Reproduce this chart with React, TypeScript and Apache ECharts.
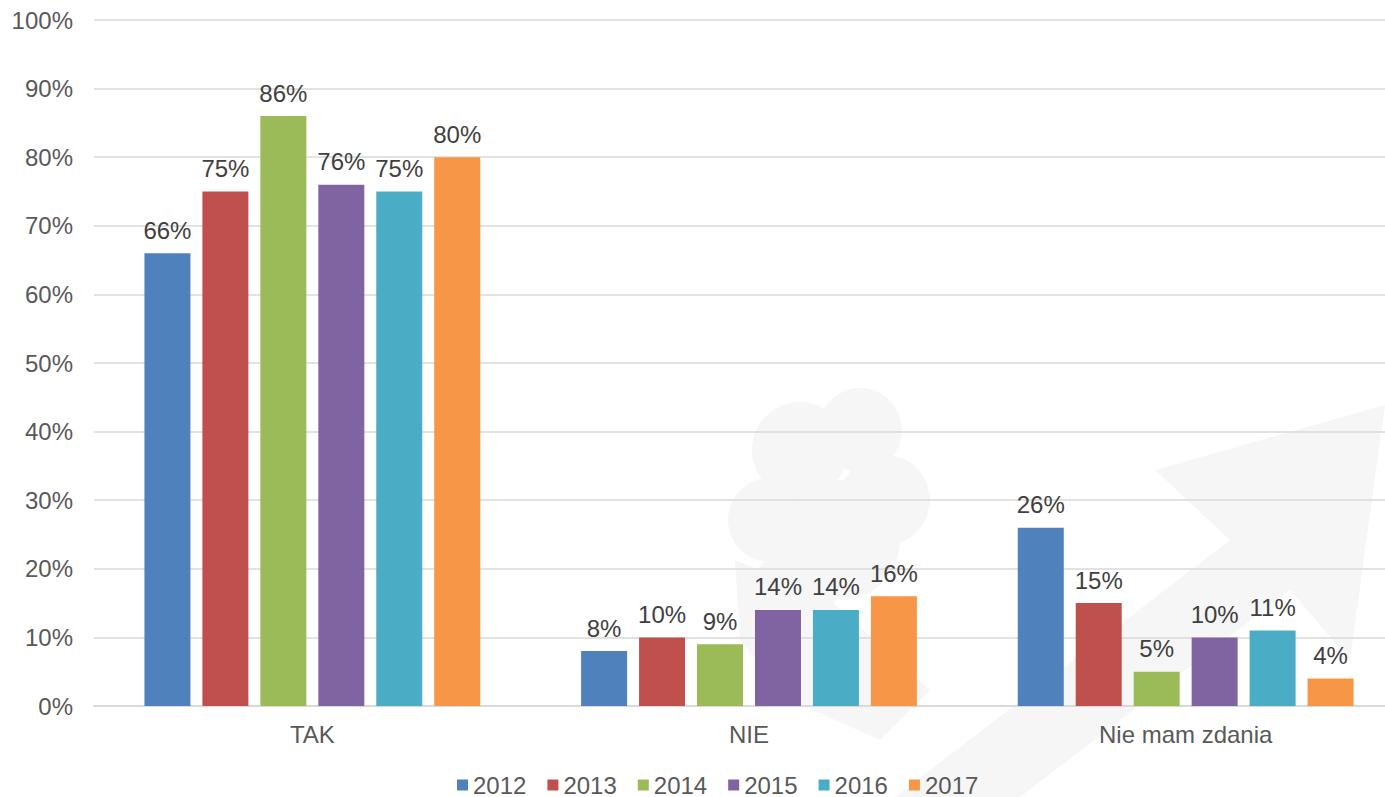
import React, { useEffect, useRef } from "react";
import * as echarts from "echarts";

const categories = ["TAK", "NIE", "Nie mam zdania"];
const years = ["2012", "2013", "2014", "2015", "2016", "2017"];
const colors = ["#4F81BD", "#C0504D", "#9BBB59", "#8064A2", "#4BACC6", "#F79646"];
const v2012 = [66, 8, 26];
const v2013 = [75, 10, 15];
const v2014 = [86, 9, 5];
const v2015 = [76, 14, 10];
const v2016 = [75, 14, 11];
const v2017 = [80, 16, 4];
const seriesValues = [v2012, v2013, v2014, v2015, v2016, v2017];
const yTicks = [0, 10, 20, 30, 40, 50, 60, 70, 80, 90, 100];

export default function App() {
  const ref = useRef<HTMLDivElement>(null);
  useEffect(() => {
    document.body.style.margin = "0";
    const chart = echarts.init(ref.current!, null, { renderer: "svg" });
    const font = "'Liberation Sans', Arial, sans-serif";
    const wm = "#f6f6f6";
    chart.setOption({
      animation: false,
      backgroundColor: "#ffffff",
      textStyle: { fontFamily: font },
      graphic: [
        {
          type: "group",
          silent: true,
          z: -10,
          children: [
            { type: "circle", shape: { cx: 800, cy: 450, r: 48 }, style: { fill: wm } },
            { type: "circle", shape: { cx: 860, cy: 430, r: 42 }, style: { fill: wm } },
            { type: "circle", shape: { cx: 885, cy: 500, r: 45 }, style: { fill: wm } },
            { type: "circle", shape: { cx: 770, cy: 520, r: 42 }, style: { fill: wm } },
            { type: "circle", shape: { cx: 840, cy: 540, r: 60 }, style: { fill: wm } },
            { type: "circle", shape: { cx: 790, cy: 600, r: 45 }, style: { fill: wm } },
            { type: "polygon", shape: { points: [[735, 560], [830, 600], [930, 690], [880, 740], [790, 700], [740, 640]] }, style: { fill: wm } },
            { type: "polygon", shape: { points: [[1385, 405], [1155, 470], [1230, 540], [895, 797], [1020, 797], [1290, 590], [1350, 660]] }, style: { fill: wm } },
          ],
        },
      ],
      grid: { left: 94, right: 0, top: 20, bottom: 91, containLabel: false, outerBoundsMode: "none" },
      legend: {
        top: 773,
        left: 457,
        padding: 0,
        itemWidth: 11,
        itemHeight: 11,
        itemGap: 21,
        icon: "rect",
        textStyle: { fontSize: 24, color: "#595959", fontFamily: font },
        data: years,
      },
      xAxis: {
        type: "category",
        data: categories,
        axisLine: { lineStyle: { color: "#d9d9d9", width: 2 } },
        axisTick: { show: false },
        axisLabel: { fontSize: 24, color: "#595959", margin: 16, fontFamily: font },
      },
      yAxis: {
        type: "value",
        min: yTicks[0],
        max: yTicks[yTicks.length - 1],
        interval: 10,
        axisLine: { show: false },
        axisTick: { show: false },
        splitLine: { lineStyle: { color: "#d9d9d9", width: 1.5 } },
        axisLabel: {
          fontSize: 24,
          color: "#595959",
          margin: 21,
          fontFamily: font,
          formatter: (v: number) => v + "%",
        },
      },
      series: years.map((y, i) => ({
        name: y,
        type: "bar",
        data: seriesValues[i],
        barWidth: 46,
        barGap: "26%",
        itemStyle: { color: colors[i] },
        label: {
          show: true,
          position: "top",
          distance: 11,
          fontSize: 24,
          color: "#404040",
          fontFamily: font,
          formatter: (p: any) => p.value + "%",
        },
      })),
    });
    return () => chart.dispose();
  }, []);
  return (
    <div style={{ width: 1385, height: 797, overflow: "hidden", position: "relative" }}>
      <div ref={ref} style={{ width: 1404, height: 797 }} />
    </div>
  );
}
